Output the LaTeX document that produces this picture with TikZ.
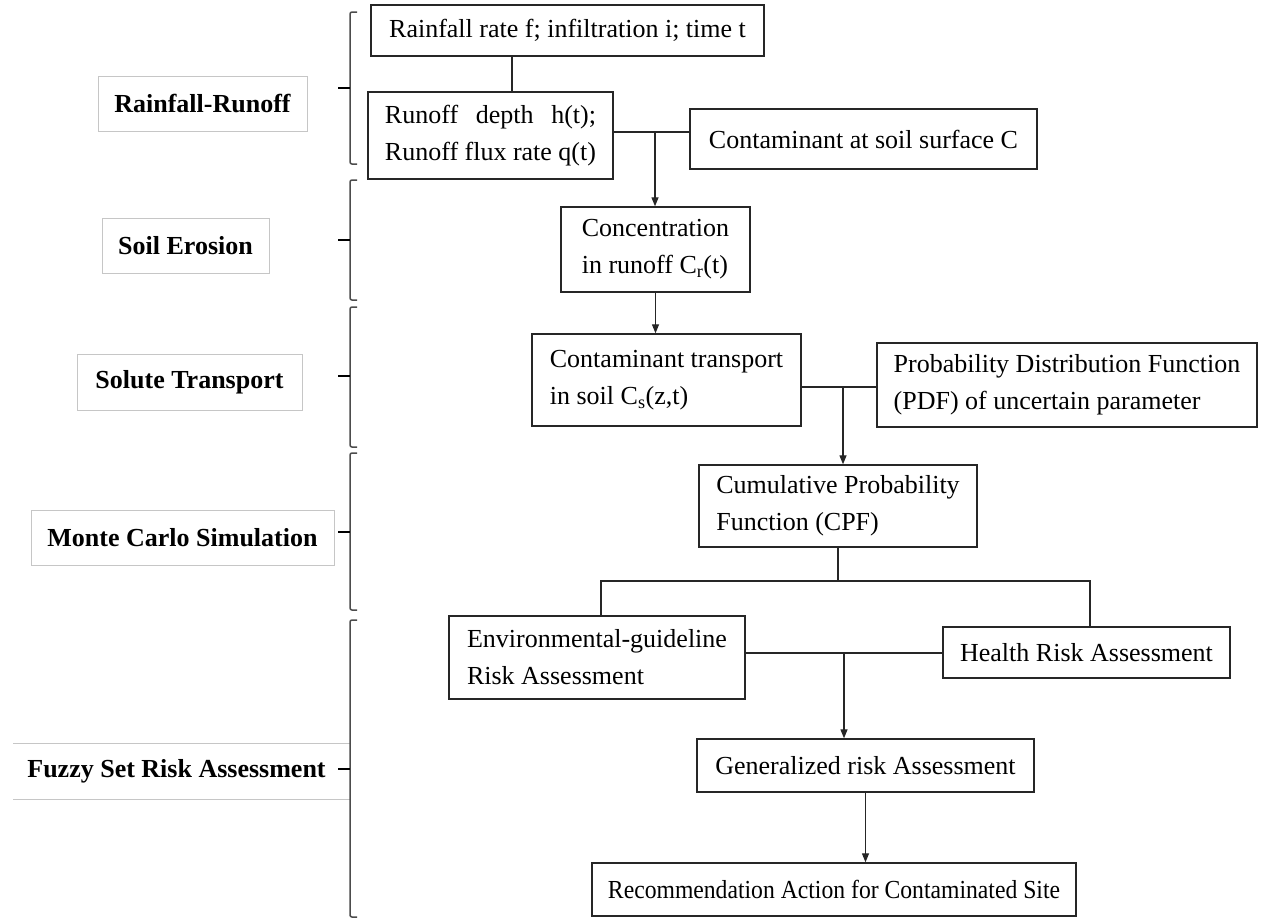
\documentclass[tikz,border=0pt]{standalone}
\usepackage{fontspec}
\setmainfont{Liberation Serif}
\usepackage{calc}
\usetikzlibrary{arrows.meta}
\newcommand{\stageBrace}[3]{%
    \draw[gray!60!black, line width=1.5pt, rounded corners=2pt] (357,#1) -- (350,#1) -- (350,#2) -- (357,#2);
    \draw[line width=2pt] (338,#3) -- (350,#3);
}
\newcommand{\stageLabel}[6]{%
    \node[stagebox, minimum width=#4, minimum height=#5] (#1) at (#2,#3) {#6};
}

\begin{document}
\begin{tikzpicture}[x=1pt, y=-1pt,
    flowbox/.style={draw=black!85, line width=1.4pt, inner sep=0pt, align=left,
        font=\fontsize{26}{37}\selectfont},
    stagebox/.style={draw=gray!45, line width=1pt, inner sep=0pt,
        font=\fontsize{26}{30}\selectfont\bfseries},
    link/.style={line width=1.3pt, black!85},
    arr/.style={link, -{Triangle[length=9pt, width=7pt]}}]
    \useasboundingbox (0,0) rectangle (1269,918);

    % stages on the left
    \stageLabel{lblrain}{202.5}{103.5}{209pt}{55pt}{Rainfall-Runoff}
    \stageLabel{lblsoil}{185.5}{245.5}{167pt}{55pt}{Soil Erosion}
    \stageLabel{lblsolute}{189.5}{382}{225pt}{56pt}{Solute Transport}
    \stageLabel{lblmonte}{182.5}{537.5}{303pt}{55pt}{Monte Carlo Simulation}
    \node[stagebox, draw=none] (lblfuzzy) at (176.5,771) {Fuzzy Set Risk Assessment};
    \draw[gray!45, line width=1pt] (13,743) -- (350,743);
    \draw[gray!45, line width=1pt] (13,799) -- (350,799);

    \stageBrace{12}{164}{88}
    \stageBrace{180}{300}{240}
    \stageBrace{307}{447}{376}
    \stageBrace{453}{610}{532}
    \stageBrace{620}{917}{769}

    % flow boxes
    \node[flowbox, minimum width=393pt, minimum height=51pt] (rain) at (567.5,30.5)
        {Rainfall rate f; infiltration i; time t};
    \node[flowbox, minimum width=245pt, minimum height=87pt] (runoff) at (490.5,135.5)
        {\makebox[\widthof{Runoff flux rate q(t)}][s]{Runoff depth h(t);}\\Runoff flux rate q(t)};
    \node[flowbox, minimum width=347pt, minimum height=60pt] (surface) at (863.5,139)
        {Contaminant at soil surface C};
    \node[flowbox, minimum width=189pt, minimum height=85pt] (conc) at (655.5,249.5)
        {Concentration\\in runoff C\textsubscript{r}(t)};
    \node[flowbox, minimum width=269pt, minimum height=92pt] (transport) at (666.5,380)
        {Contaminant transport\\in soil C\textsubscript{s}(z,t)};
    \node[flowbox, minimum width=380pt, minimum height=84pt] (pdf) at (1067,385)
        {Probability Distribution Function\\(PDF) of uncertain parameter};
    \node[flowbox, minimum width=278pt, minimum height=82pt] (cpf) at (838,506)
        {Cumulative Probability\\Function (CPF)};
    \node[flowbox, minimum width=296pt, minimum height=83pt] (env) at (597,657.5)
        {Environmental-guideline\\Risk Assessment};
    \node[flowbox, minimum width=287pt, minimum height=51pt] (health) at (1086.5,652.5)
        {Health Risk Assessment};
    \node[flowbox, minimum width=337pt, minimum height=53pt] (general) at (865.5,765.5)
        {Generalized risk Assessment};
    \node[flowbox, minimum width=484pt, minimum height=53pt] (recom) at (834,889.5)
        {\scalebox{0.91}[1]{Recommendation Action for Contaminated Site}};

    % connectors
    \coordinate (j0) at (512,0);
    \coordinate (j1) at (655,132);
    \coordinate (j2) at (843,387);
    \coordinate (j3) at (838,581);
    \coordinate (j3l) at (601,581);
    \coordinate (j3r) at (1090,581);
    \coordinate (j4) at (844,653);

    \draw[link] (rain.south -| j0) -- (runoff.north -| j0);
    \draw[link] (runoff.east |- j1) -- (surface.west |- j1);
    \draw[arr] (j1) -- (j1 |- conc.north);
    \draw[arr] (conc.south) -- (conc.south |- transport.north);
    \draw[link] (transport.east |- j2) -- (pdf.west |- j2);
    \draw[arr] (j2) -- (j2 |- cpf.north);
    \draw[link] (cpf.south) -- (j3);
    \draw[link] (env.north -| j3l) -- (j3l) -- (j3r) -- (health.north -| j3r);
    \draw[link] (env.east |- j4) -- (health.west |- j4);
    \draw[arr] (j4) -- (j4 |- general.north);
    \draw[arr] (general.south) -- (general.south |- recom.north);
\end{tikzpicture}
\end{document}
